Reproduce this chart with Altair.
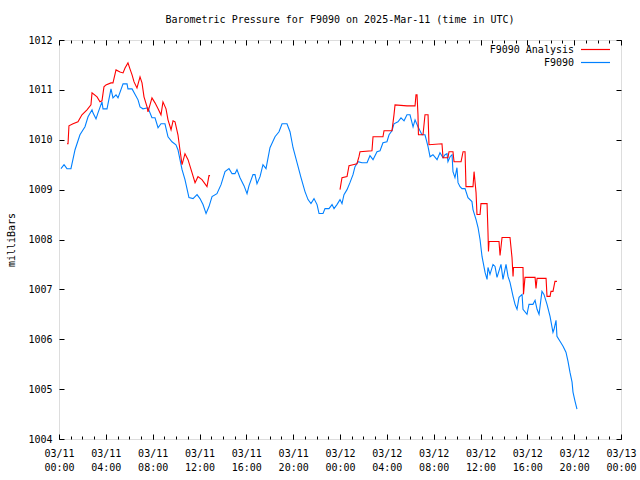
import altair as alt
import pandas as pd

# ---- data (hours since 2025-03-11 00:00 UTC, millibars) ----
blue_hours = [
    0.17, 0.43, 0.68, 1.02, 1.37, 1.79, 2.22, 2.48, 2.82, 2.90,
    3.16, 3.33, 3.67, 3.76, 4.10, 4.44, 4.61, 4.87, 5.04, 5.47,
    5.81, 5.89, 6.24, 6.75, 6.92, 7.17, 7.60, 7.94, 8.20, 8.46,
    8.71, 9.05, 9.31, 9.65, 9.99, 10.16, 10.51, 10.76, 11.10, 11.45,
    11.79, 12.04, 12.30, 12.56, 12.81, 13.07, 13.49, 13.84, 14.18, 14.52,
    14.78, 15.03, 15.20, 15.46, 15.80, 16.06, 16.23, 16.57, 16.74, 16.91,
    17.17, 17.42, 17.68, 18.02, 18.45, 18.79, 19.05, 19.47, 19.73, 19.99,
    20.33, 20.67, 21.01, 21.27, 21.52, 21.78, 22.04, 22.21, 22.55, 22.72,
    23.06, 23.32, 23.49, 23.74, 24.00, 24.17, 24.34, 24.60, 24.85, 25.11,
    25.28, 25.54, 25.88, 26.31, 26.56, 26.82, 27.16, 27.42, 27.67, 28.01,
    28.19, 28.44, 28.61, 28.95, 29.21, 29.47, 29.72, 29.98, 30.24, 30.41,
    30.66, 31.00, 31.26, 31.52, 31.69, 31.94, 32.29, 32.54, 32.80, 32.97,
    33.14, 33.22, 33.40, 33.57, 33.65, 33.82, 33.99, 34.08, 34.25, 34.42,
    34.68, 34.93, 35.27, 35.36, 35.62, 35.79, 35.96, 36.13, 36.21, 36.39,
    36.56, 36.64, 36.81, 37.07, 37.24, 37.41, 37.75, 37.92, 38.18, 38.35,
    38.52, 38.78, 38.95, 39.12, 39.29, 39.55, 39.63, 39.97, 40.14, 40.48,
    40.66, 40.83, 41.00, 41.25, 41.42, 41.68, 41.94, 42.19, 42.28, 42.45,
    42.53, 42.79, 43.05, 43.30, 43.47, 43.64, 43.82, 43.90, 44.07, 44.24,
]
blue_mbar = [
    1009.42, 1009.50, 1009.42, 1009.42, 1009.80, 1010.10, 1010.26, 1010.46, 1010.60, 1010.54,
    1010.42, 1010.54, 1010.76, 1010.62, 1010.62, 1011.02, 1010.84, 1010.90, 1010.84, 1011.12,
    1011.12, 1011.02, 1011.02, 1010.80, 1010.66, 1010.62, 1010.64, 1010.44, 1010.44, 1010.24,
    1010.32, 1010.32, 1010.06, 1009.96, 1009.90, 1009.80, 1009.40, 1009.20, 1008.84, 1008.82,
    1008.90, 1008.82, 1008.70, 1008.52, 1008.66, 1008.86, 1008.92, 1009.10, 1009.36, 1009.42,
    1009.32, 1009.32, 1009.40, 1009.24, 1009.08, 1008.92, 1009.08, 1009.30, 1009.30, 1009.12,
    1009.26, 1009.50, 1009.42, 1009.84, 1010.06, 1010.16, 1010.32, 1010.32, 1010.16, 1009.84,
    1009.54, 1009.24, 1008.96, 1008.80, 1008.72, 1008.82, 1008.70, 1008.52, 1008.52, 1008.62,
    1008.62, 1008.70, 1008.62, 1008.70, 1008.80, 1008.72, 1008.90, 1009.00, 1009.14, 1009.30,
    1009.46, 1009.56, 1009.54, 1009.54, 1009.68, 1009.60, 1009.76, 1009.78, 1009.94, 1009.96,
    1010.10, 1010.18, 1010.32, 1010.36, 1010.44, 1010.38, 1010.50, 1010.50, 1010.26, 1010.40,
    1010.26, 1010.10, 1010.10, 1009.86, 1009.66, 1009.70, 1009.60, 1009.74, 1009.64, 1009.70,
    1009.72, 1009.56, 1009.66, 1009.70, 1009.36, 1009.24, 1009.44, 1009.14, 1009.06, 1009.02,
    1009.02, 1008.84, 1008.76, 1008.60, 1008.40, 1008.24, 1008.00, 1007.66, 1007.56, 1007.34,
    1007.20, 1007.44, 1007.30, 1007.50, 1007.46, 1007.24, 1007.50, 1007.20, 1007.50, 1007.26,
    1007.14, 1006.86, 1006.70, 1006.60, 1006.84, 1006.90, 1006.60, 1006.50, 1006.70, 1006.70,
    1006.78, 1006.60, 1006.50, 1006.96, 1006.90, 1006.70, 1006.46, 1006.14, 1006.20, 1006.38,
    1006.06, 1005.96, 1005.86, 1005.74, 1005.56, 1005.34, 1005.14, 1004.94, 1004.76, 1004.60,
]

red1_hours = [
    0.68, 0.77, 0.85, 1.20, 1.62, 1.96, 2.39, 2.73, 2.82, 3.25,
    3.50, 3.67, 3.84, 4.01, 4.44, 4.61, 4.87, 5.21, 5.47, 5.64,
    5.89, 6.06, 6.24, 6.41, 6.66, 6.92, 7.09, 7.26, 7.52, 7.60,
    7.94, 8.20, 8.46, 8.71, 8.88, 9.14, 9.31, 9.57, 9.74, 9.91,
    10.16, 10.33, 10.51, 10.76, 11.02, 11.36, 11.62, 11.87, 12.21, 12.64,
    12.81, 12.90,
]
red1_mbar = [
    1009.92, 1009.92, 1010.28, 1010.32, 1010.36, 1010.50, 1010.60, 1010.70, 1010.94, 1010.86,
    1010.76, 1010.78, 1011.06, 1011.10, 1011.14, 1011.14, 1011.40, 1011.36, 1011.34, 1011.44,
    1011.54, 1011.42, 1011.30, 1011.16, 1011.04, 1011.26, 1011.14, 1010.86, 1010.66, 1010.56,
    1010.84, 1010.74, 1010.62, 1010.50, 1010.76, 1010.62, 1010.40, 1010.20, 1010.38, 1010.36,
    1010.10, 1009.80, 1009.50, 1009.72, 1009.60, 1009.34, 1009.14, 1009.26, 1009.20, 1009.06,
    1009.28, 1009.28,
]

red2_hours = [
    24.00, 24.17, 24.60, 24.77, 25.11, 25.45, 25.62, 25.71, 26.73, 26.82,
    27.67, 27.76, 28.44, 28.61, 28.70, 29.72, 30.41, 30.49, 30.58, 30.66,
    30.70, 31.09, 31.26, 31.52, 31.60, 32.71, 32.80, 33.22, 33.31, 33.65,
    33.74, 34.34, 34.51, 34.68, 34.76, 35.36, 35.45, 35.62, 35.70, 35.96,
    36.04, 36.56, 36.64, 36.68, 36.73, 37.58, 37.67, 37.84, 38.52, 38.69,
    38.78, 38.82, 39.63, 39.67, 39.80, 40.66, 40.74, 40.83, 41.60, 41.68,
    41.94, 42.02, 42.19, 42.36, 42.53,
]
red2_mbar = [
    1009.00, 1009.24, 1009.26, 1009.48, 1009.50, 1009.52, 1009.66, 1009.76, 1009.78, 1010.06,
    1010.06, 1010.18, 1010.18, 1010.50, 1010.70, 1010.68, 1010.68, 1010.90, 1010.90, 1010.50,
    1010.10, 1010.10, 1010.50, 1010.50, 1009.90, 1009.92, 1009.64, 1009.64, 1009.76, 1009.76,
    1009.56, 1009.56, 1009.76, 1009.76, 1009.06, 1009.06, 1009.36, 1008.94, 1008.50, 1008.50,
    1008.72, 1008.72, 1008.14, 1007.76, 1007.96, 1007.96, 1007.68, 1008.04, 1008.04, 1007.64,
    1007.26, 1007.44, 1007.44, 1006.90, 1007.24, 1007.24, 1007.02, 1007.22, 1007.22, 1006.86,
    1006.86, 1006.96, 1006.96, 1007.16, 1007.16,
]

series_names = ["F9090 Analysis", "F9090"]
series_colors = ["#ff0000", "#0080ff"]
title_text = "Barometric Pressure for F9090 on 2025-Mar-11 (time in UTC)"
y_title = "milliBars"
major_hours = list(range(0, 49, 4))
minor_hours = list(range(0, 49))
y_ticks = list(range(1004, 1013))

rows = []
for h, p in zip(blue_hours, blue_mbar):
    rows.append({"h": h, "p": p, "series": "F9090", "seg": "blue"})
for h, p in zip(red1_hours, red1_mbar):
    rows.append({"h": h, "p": p, "series": "F9090 Analysis", "seg": "red1"})
for h, p in zip(red2_hours, red2_mbar):
    rows.append({"h": h, "p": p, "series": "F9090 Analysis", "seg": "red2"})
df = pd.DataFrame(rows)

W, H = 562, 399
FONT = "DejaVu Sans Mono"
xscale = alt.Scale(domain=[0, 48], nice=False, zero=False)
yscale = alt.Scale(domain=[1004, 1012], nice=False, zero=False)

label_expr = ("['03/' + (11 + floor(datum.value / 24)), "
              "(datum.value % 24 < 10 ? '0' : '') + (datum.value % 24) + ':00']")

lines = alt.Chart(df).mark_line(strokeWidth=1.1).encode(
    x=alt.X("h:Q", scale=xscale, axis=alt.Axis(
        values=major_hours, labelExpr=label_expr, ticks=False, domain=False,
        grid=False, labelPadding=9, labelLineHeight=14, title=None,
        labelFont=FONT, labelFontSize=10, labelColor="black",
        labelOverlap=False, labelFlush=False)),
    y=alt.Y("p:Q", scale=yscale, axis=alt.Axis(
        values=y_ticks, ticks=False, domain=False, grid=False, labelPadding=7,
        format="d", labelFont=FONT, labelFontSize=10, labelColor="black",
        title=y_title, titleFont=FONT, titleFontSize=10, titleFontWeight="normal",
        titleColor="black", titleAngle=270, titleX=-48, titleY=H / 2,
        titleAlign="center", titleBaseline="middle")),
    color=alt.Color("series:N", scale=alt.Scale(domain=series_names, range=series_colors),
                    legend=None),
    detail="seg:N",
)


def tick_layer(x_axis, y_axis):
    return alt.Chart(df).mark_point(opacity=0).encode(
        x=alt.X("h:Q", scale=xscale, axis=x_axis),
        y=alt.Y("p:Q", scale=yscale, axis=y_axis),
    )


def xt(orient, vals, size):
    return alt.Axis(orient=orient, offset={"expr": str(-H)}, values=vals, tickSize=size,
                    labels=False, domain=False, grid=False, title=None, tickColor="black")


def yt(orient, size):
    return alt.Axis(orient=orient, offset={"expr": str(-W)}, values=y_ticks, tickSize=size,
                    labels=False, domain=False, grid=False, title=None, tickColor="black")


t1 = tick_layer(xt("top", major_hours, 5), yt("right", 5))
t2 = tick_layer(xt("bottom", major_hours, 5), yt("left", 5))
t3 = tick_layer(xt("top", minor_hours, 3), None)
t4 = tick_layer(xt("bottom", minor_hours, 3), None)

# gnuplot-style key in the top-right corner: label, then a line sample
key_layers = []
for i, (name, col) in enumerate(zip(series_names, series_colors)):
    kdf = pd.DataFrame({"label": [name]})
    ky = 9.5 + 13 * i
    key_layers.append(
        alt.Chart(kdf).mark_text(align="right", baseline="middle", font=FONT,
                                 fontSize=10, color="black").encode(
            text="label:N", x=alt.value(515), y=alt.value(ky)))
    key_layers.append(
        alt.Chart(kdf).mark_rule(color=col, strokeWidth=1.2).encode(
            x=alt.value(522), x2=alt.value(551), y=alt.value(ky)))

chart = alt.layer(lines, t1, t2, t3, t4, *key_layers).resolve_axis(
    x="independent", y="independent"
).properties(
    width=W, height=H,
    title=alt.TitleParams(title_text, font=FONT, fontSize=10, fontWeight="normal",
                          color="black", anchor="middle", frame="group",
                          baseline="alphabetic", offset=2),
    autosize=alt.AutoSizeParams(type="none"),
    padding={"left": 59, "top": 40, "right": 19, "bottom": 41},
).configure_view(stroke="black", strokeWidth=1).configure(background="white")

chart.save("out.html", embed_options={"renderer": "svg", "actions": False})
